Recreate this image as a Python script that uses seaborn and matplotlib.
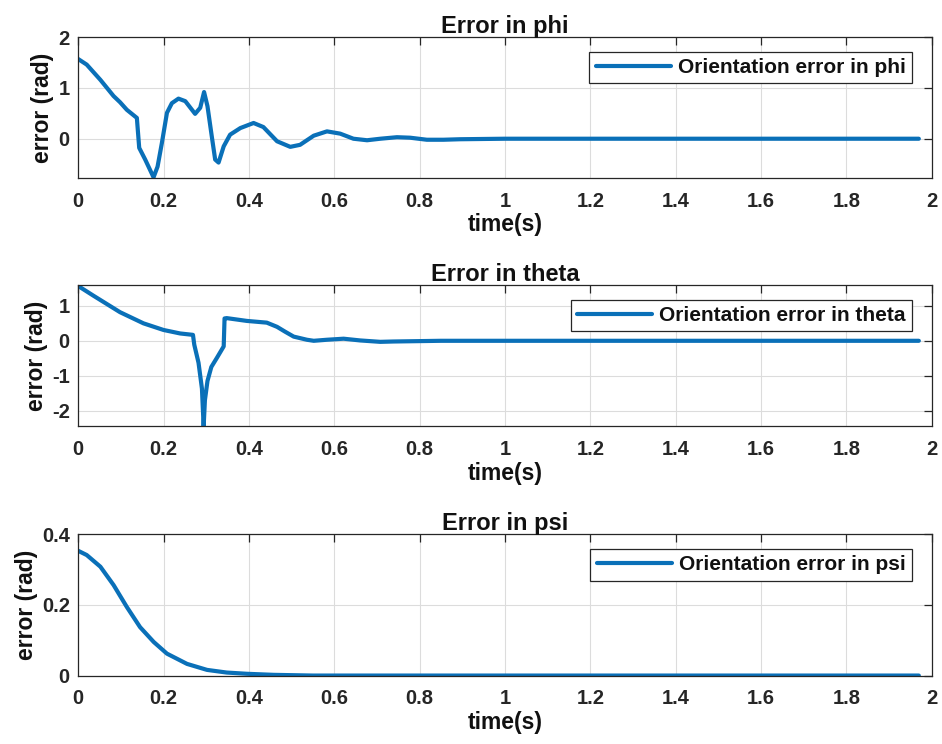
import numpy as np
import pandas as pd
import seaborn as sns
import matplotlib.pyplot as plt

# Données (temps en s, erreur en rad)
t_phi = [0, 0.02, 0.052, 0.083, 0.098, 0.114, 0.1375, 0.143, 0.157, 0.1766, 0.186, 0.196,
         0.208, 0.2195, 0.235, 0.251, 0.274, 0.286, 0.295, 0.303, 0.313, 0.321, 0.329,
         0.341, 0.356, 0.38, 0.411, 0.434, 0.466, 0.497, 0.52, 0.552, 0.583, 0.614, 0.645,
         0.677, 0.708, 0.747, 0.778, 0.817, 0.856, 0.895, 1.0, 1.2, 1.5, 1.97]
e_phi = [1.57, 1.46, 1.16, 0.84, 0.72, 0.57, 0.41, -0.18, -0.41, -0.76, -0.55, -0.09,
         0.51, 0.70, 0.79, 0.74, 0.49, 0.61, 0.92, 0.64, 0.05, -0.41, -0.47,
         -0.15, 0.08, 0.21, 0.31, 0.23, -0.05, -0.16, -0.12, 0.06, 0.145, 0.10, 0.0,
         -0.03, 0.0, 0.03, 0.02, -0.02, -0.02, -0.01, 0.0, 0.0, 0.0, 0.0]

t_theta = [0, 0.036, 0.098, 0.153, 0.2, 0.239, 0.269, 0.272, 0.282, 0.29, 0.294, 0.297,
           0.303, 0.312, 0.325, 0.341, 0.343, 0.348, 0.395, 0.442, 0.466, 0.485, 0.505,
           0.536, 0.552, 0.583, 0.622, 0.661, 0.708, 0.739, 0.85, 1.2, 1.6, 1.97]
e_theta = [1.57, 1.29, 0.82, 0.50, 0.31, 0.21, 0.17, -0.11, -0.63, -1.37, -2.45, -1.7,
           -1.15, -0.75, -0.49, -0.16, 0.64, 0.65, 0.57, 0.52, 0.40, 0.26, 0.12,
           0.03, 0.0, 0.03, 0.06, 0.01, -0.03, -0.02, 0.0, 0.0, 0.0, 0.0]

t_psi = [0, 0.02, 0.052, 0.083, 0.114, 0.145, 0.177, 0.208, 0.255, 0.302, 0.348, 0.395,
         0.458, 0.55, 0.8, 1.2, 1.6, 1.97]
e_psi = [0.353, 0.341, 0.308, 0.256, 0.194, 0.137, 0.095, 0.062, 0.033, 0.016, 0.0085,
         0.005, 0.002, 0.0, 0.0, 0.0, 0.0, 0.0]

sns.set_style("whitegrid")
plt.rcParams['font.family'] = ['Liberation Sans', 'DejaVu Sans']
plt.rcParams['font.weight'] = 'bold'

BLEU = '#0a70b8'
NOIR = '#262626'
fig = plt.figure(figsize=(9.42, 7.44), dpi=100)

panneaux = [
    ('phi', t_phi, e_phi, (-0.77, 2), [0, 1, 2], [0.083, 0.761, 0.906, 0.189]),
    ('theta', t_theta, e_theta, (-2.45, 1.6), [-2, -1, 0, 1], [0.083, 0.427, 0.906, 0.190]),
    ('psi', t_psi, e_psi, (0, 0.4), [0, 0.2, 0.4], [0.083, 0.092, 0.906, 0.190]),
]

for nom, t, e, ylim, yticks, pos in panneaux:
    ax = fig.add_axes(pos)
    df = pd.DataFrame({'t': t, 'e': e})
    sns.lineplot(data=df, x='t', y='e', ax=ax, color=BLEU, linewidth=3.0,
                 label='Orientation error in ' + nom)
    ax.set_xlim(0, 2)
    ax.set_ylim(*ylim)
    ax.set_xticks(np.arange(0, 2.01, 0.2))
    ax.set_xticklabels(['0', '0.2', '0.4', '0.6', '0.8', '1', '1.2', '1.4', '1.6', '1.8', '2'])
    ax.set_yticks(yticks)
    ax.set_yticklabels([('%g' % v) for v in yticks])
    ax.grid(True, color='#dcdcdc', linewidth=0.8)
    for s in ax.spines.values():
        s.set_color(NOIR)
        s.set_linewidth(0.9)
    ax.tick_params(direction='in', length=6, width=0.9, top=True, right=True,
                   labelsize=14.5, colors=NOIR)
    ax.tick_params(axis='x', pad=10)
    ax.tick_params(axis='y', pad=6)
    for lab in ax.get_xticklabels() + ax.get_yticklabels():
        lab.set_fontweight('bold')
    ax.set_xlabel('time(s)', fontsize=16.5, fontweight='bold', labelpad=2, color='#111111')
    ax.set_ylabel('error (rad)', fontsize=16.5, fontweight='bold', labelpad=3, color='#111111')
    ax.set_title('Error in ' + nom, fontsize=17, fontweight='bold', pad=3, color='#111111')
    leg = ax.legend(loc='upper right', bbox_to_anchor=(0.977, 0.895), fontsize=15,
                    frameon=True, fancybox=False, framealpha=1, edgecolor=NOIR,
                    handlelength=3.6, handletextpad=0.35, borderaxespad=0, borderpad=0.3)
    leg.get_frame().set_linewidth(0.9)
    for txt in leg.get_texts():
        txt.set_fontweight('bold')
        txt.set_color('#111111')

fig.savefig('out.png', dpi=100, facecolor='white')
